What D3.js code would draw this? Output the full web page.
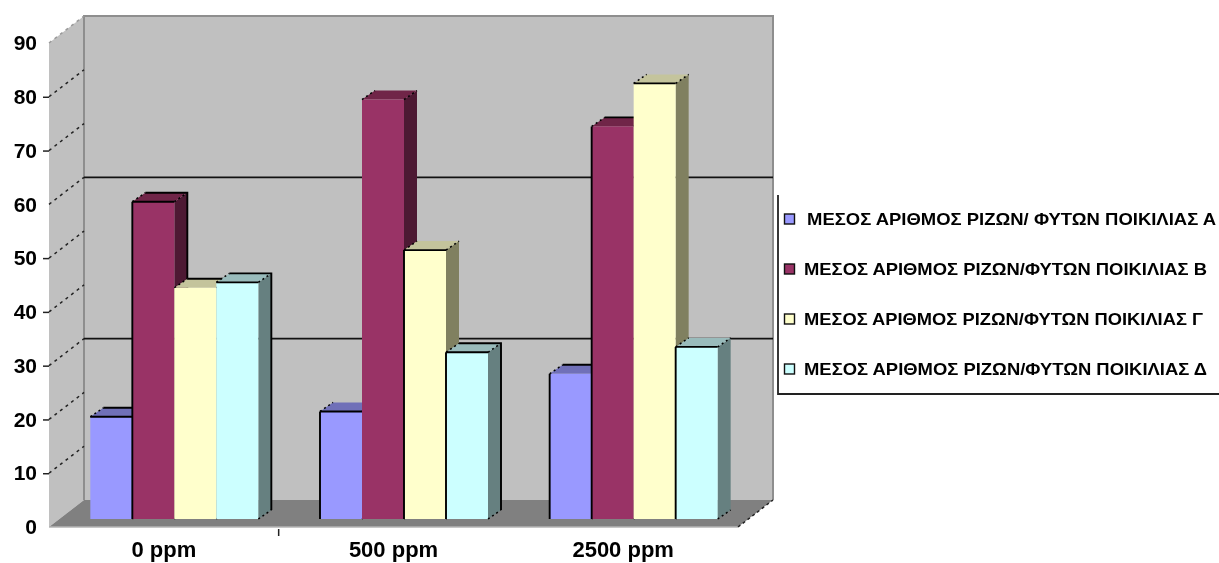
<!DOCTYPE html>
<html><head><meta charset="utf-8">
<script src="https://cdn.jsdelivr.net/npm/d3@7/dist/d3.min.js"></script>
<style>
html,body{margin:0;padding:0;background:#fff;overflow:hidden}
svg{display:block;filter:blur(0.65px)}
text{font-family:"Liberation Sans",Arial,sans-serif;font-weight:700;fill:#000}
</style></head><body>
<svg id="c" width="1219" height="563"></svg>
<script>
const categories = ["0 ppm","500 ppm","2500 ppm"];
const seriesNames = ["A","B","Γ","Δ"];
const valuesA = [19,20,27];
const valuesB = [59,78,73];
const valuesG = [43,50,81];
const valuesD = [44,31,32];
const legendLabels = [
 "ΜΕΣΟΣ ΑΡΙΘΜΟΣ ΡΙΖΩΝ/ ΦΥΤΩΝ ΠΟΙΚΙΛΙΑΣ Α",
 "ΜΕΣΟΣ ΑΡΙΘΜΟΣ ΡΙΖΩΝ/ΦΥΤΩΝ ΠΟΙΚΙΛΙΑΣ Β",
 "ΜΕΣΟΣ ΑΡΙΘΜΟΣ ΡΙΖΩΝ/ΦΥΤΩΝ ΠΟΙΚΙΛΙΑΣ Γ",
 "ΜΕΣΟΣ ΑΡΙΘΜΟΣ ΡΙΖΩΝ/ΦΥΤΩΝ ΠΟΙΚΙΛΙΑΣ Δ"];
const yTicks = [0,10,20,30,40,50,60,70,80,90];
const wallLines = [30,60];

const front = ["#9999ff","#993366","#ffffcc","#ccffff"];
const tops  = ["#7070b8","#702548","#c4c49c","#99bbbb"];
const sides = ["#6a6ab0","#4d1933","#808060","#668080"];
const series = [valuesA,valuesB,valuesG,valuesD];
// which outline edges survive in the reference, per category then series
const leftEdge = [[0,1,0,0],[1,0,1,1],[1,1,0,1]];
const topEdge  = [[1,1,0,1],[1,0,1,1],[0,0,1,1]];
const backEdge = [[1,1,1,1],[0,0,0,1],[1,1,0,0]];

const svg = d3.select("#c");
const y = d3.scaleLinear().domain([0,90]).range([527,43]);
const x = d3.scaleBand().domain(categories).range([49,738]);
const sub = d3.scaleBand().domain(seriesNames).range([0,168]);
const wallDX=35, wallDY=-27, barDX=10.5, barDY=-8, depthX=13, depthY=-9;
const poly = pts => pts.map(p=>p.join(",")).join(" ");
const x0=x.range()[0], x1=x.range()[1], yb=y(0), yt=y(90);

// walls
svg.append("polygon").attr("points",poly([[x0,yb],[x0,yt],[x0+wallDX,yt+wallDY],[x0+wallDX,yb+wallDY]])).attr("fill","#c0c0c0");
svg.append("polygon").attr("points",poly([[x0+wallDX,yt+wallDY],[x1+wallDX,yt+wallDY],[x1+wallDX,yb+wallDY],[x0+wallDX,yb+wallDY]]))
  .attr("fill","#c0c0c0");
svg.append("path").attr("d",`M${x0+wallDX},${yb+wallDY}V${yt+wallDY}H${x1+wallDX}V${yb+wallDY}`).attr("fill","none").attr("stroke","#8e8e8e").attr("stroke-width",2);

// wall gridlines
svg.selectAll(".wl").data(wallLines).join("line").attr("x1",x0+wallDX).attr("x2",x1+wallDX)
  .attr("y1",d=>y(d)+wallDY).attr("y2",d=>y(d)+wallDY).attr("stroke","#111").attr("stroke-width",1.8);
// side wall dotted
svg.selectAll(".sl").data(yTicks.slice(1)).join("line").attr("x1",x0).attr("x2",x0+wallDX)
  .attr("y1",d=>y(d)).attr("y2",d=>y(d)+wallDY)
  .attr("stroke",d=>d===90?"#999":"#222").attr("stroke-width",1.5).attr("stroke-dasharray","3 4");

// floor
svg.append("polygon").attr("points",poly([[x0,yb],[x1,yb],[x1+wallDX,yb+wallDY],[x0+wallDX,yb+wallDY]])).attr("fill","#808080");
svg.append("line").attr("x1",x0).attr("x2",x1).attr("y1",yb).attr("y2",yb).attr("stroke","#b4b4b4").attr("stroke-width",1.5);
svg.append("line").attr("x1",x1).attr("x2",x1+wallDX).attr("y1",yb).attr("y2",yb+wallDY).attr("stroke","#222").attr("stroke-width",1.5).attr("stroke-dasharray","3 3");

// bars
const by = v => y(v)+barDY;
const base = by(0);
const edge = (g,d,w,dash)=>g.append("path").attr("d",d).attr("fill","none").attr("stroke","#000").attr("stroke-width",w).attr("stroke-dasharray",dash||null);
categories.forEach((c,ci)=>{
  const gx = x(c)+x.step()/2-84+barDX;
  seriesNames.forEach((s,si)=>{
    const v=series[si][ci], l=gx+sub(s), w=sub.bandwidth(), r=l+w, t=by(v);
    const g=svg.append("g");
    g.append("polygon").attr("points",poly([[r,base],[r,t],[r+depthX,t+depthY],[r+depthX,base+depthY]])).attr("fill",sides[si]);
    g.append("polygon").attr("points",poly([[l,t],[r,t],[r+depthX,t+depthY],[l+depthX,t+depthY]])).attr("fill",tops[si]);
    g.append("rect").attr("x",l).attr("y",t).attr("width",w).attr("height",base-t).attr("fill",front[si]);
    if(leftEdge[ci][si]) edge(g,`M${l},${base}V${t}`,1.9);
    if(topEdge[ci][si]) edge(g,`M${l},${t}H${r}`,1.9);
    edge(g,`M${l},${t}L${l+depthX},${t+depthY}M${r},${t}L${r+depthX},${t+depthY}`,1.5,"2 3");
    if(backEdge[ci][si]) edge(g,`M${l+depthX},${t+depthY}H${r+depthX}V${base+depthY}`,1.9);
    edge(g,`M${r},${base}L${r+depthX},${base+depthY}`,1.5,"2 3");
  });
});

// axes
const ay = svg.append("g").attr("transform",`translate(${x0},0)`)
  .call(d3.axisLeft(y).tickValues(yTicks).tickSize(6).tickPadding(6));
ay.select(".domain").remove();
ay.selectAll(".tick line").attr("stroke","#222").attr("stroke-width",1.5).attr("opacity",d=>(d===0||d===60||d===90)?0:1);
ay.selectAll("text").style("font-size","21px").attr("font-family",null);

const ax = svg.append("g").attr("transform",`translate(0,${yb})`)
  .call(d3.axisBottom(x).tickSize(0).tickPadding(14));
ax.select(".domain").remove();
ax.selectAll("text").style("font-size","22px").attr("font-family",null);
svg.append("line").attr("x1",x(categories[1])).attr("x2",x(categories[1])).attr("y1",yb+2).attr("y2",yb+9).attr("stroke","#222").attr("stroke-width",1.5);

// legend
svg.append("path").attr("d","M778,195V394H1219").attr("fill","none").attr("stroke","#222").attr("stroke-width",1.8);
const legendY = d3.scalePoint().domain(seriesNames).range([219,369]);
const legendX = [807,804,804,804], legendW=[409,403,399,403];
seriesNames.forEach((s,i)=>{
  const ly=legendY(s);
  svg.append("rect").attr("x",784.5).attr("y",ly-5).attr("width",10).attr("height",10).attr("fill",front[i]).attr("stroke","#111").attr("stroke-width",1.4);
  svg.append("text").attr("x",legendX[i]).attr("y",ly+6).attr("textLength",legendW[i]).attr("lengthAdjust","spacingAndGlyphs")
    .style("font-size","16.5px").text(legendLabels[i]);
});
</script></body></html>
